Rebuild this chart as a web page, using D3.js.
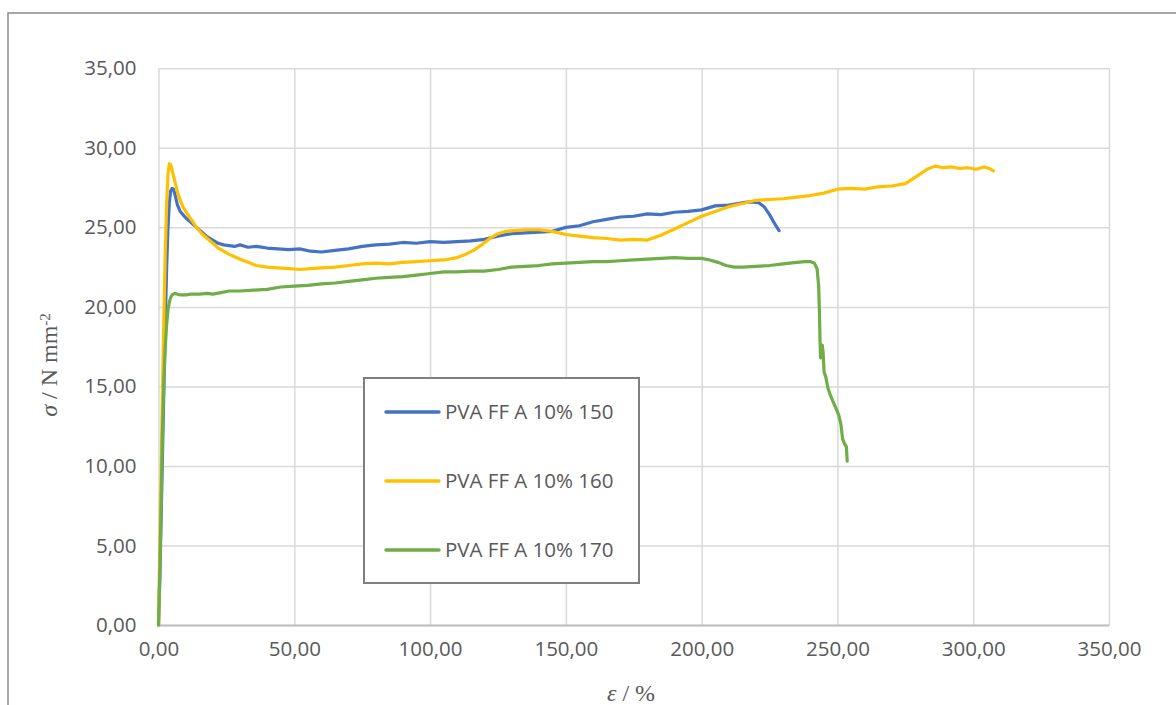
<!DOCTYPE html>
<html>
<head>
<meta charset="utf-8">
<script src="https://cdn.jsdelivr.net/npm/d3@7"></script>
<style>
    body { margin: 0; background: #ffffff; }
    svg { display: block; }
    .tick text { font-family: "Open Sans", sans-serif; font-size: 20.5px; fill: #595959; }
    .legendlabel { font-family: "Open Sans", sans-serif; font-size: 20.5px; fill: #595959; }
    .axistitle { font-family: "Liberation Serif", "Times New Roman", serif; font-size: 24px; fill: #595959; }
</style>
</head>
<body>
<div id="chart"></div>
<script>

// strain (%) and stress (N/mm2)
var strain150 = [0,0.5,1,1.5,2,2.5,3,3.5,4,4.5,5,5.5,6,7,8,9,10,12,14,16,18,20,22,24,26,28,30,33,36,40,44,48,52,56,60,65,70,75,80,85,90,95,100,105,110,115,120,125,130,135,140,145,150,155,160,165,170,175,180,185,190,195,200,205,210,215,218,221,223,225,227,228.5];
var stress150 = [0,3,7,11,15,19,22.5,25,26.6,27.3,27.45,27.4,27.1,26.4,26.0,25.8,25.6,25.3,25.0,24.7,24.4,24.2,24.0,23.9,23.85,23.8,23.9,23.75,23.8,23.7,23.65,23.6,23.65,23.5,23.45,23.55,23.65,23.8,23.9,23.95,24.05,24.0,24.1,24.05,24.1,24.15,24.25,24.45,24.6,24.65,24.7,24.75,25.0,25.1,25.35,25.5,25.65,25.7,25.85,25.8,25.95,26.0,26.1,26.35,26.4,26.55,26.6,26.55,26.3,25.8,25.2,24.8];

var strain160 = [0,0.5,1,1.5,2,2.5,3,3.5,4,4.5,5,6,7,8,9,10,12,14,16,18,20,22,24,26,28,30,33,36,40,44,48,52,56,60,65,70,75,80,85,90,95,100,105,110,113,116,119,122,125,128,131,135,140,145,150,155,160,165,170,175,180,185,190,195,200,205,210,215,220,225,230,235,240,245,250,255,260,265,270,275,280,283,286,289,292,295,298,301,304,306,307.5];
var stress160 = [0,5,10,15,19.5,23.5,26.5,28.4,29.0,28.95,28.6,27.9,27.2,26.7,26.3,26.0,25.5,25.0,24.6,24.3,24.0,23.7,23.5,23.3,23.15,23.0,22.8,22.6,22.5,22.45,22.4,22.35,22.4,22.45,22.5,22.6,22.7,22.75,22.7,22.8,22.85,22.9,22.95,23.1,23.3,23.55,23.9,24.3,24.6,24.75,24.8,24.85,24.85,24.75,24.55,24.45,24.35,24.3,24.2,24.25,24.2,24.5,24.9,25.3,25.7,26.0,26.3,26.5,26.7,26.75,26.8,26.9,27.0,27.15,27.4,27.45,27.4,27.55,27.6,27.75,28.3,28.65,28.85,28.75,28.8,28.7,28.75,28.65,28.8,28.7,28.55];

var strain170 = [0,0.5,1,1.5,2,2.5,3,3.5,4,4.5,5,6,7,8,10,12,15,18,20,23,26,30,35,40,45,50,55,60,65,70,75,80,85,90,95,100,105,110,115,120,125,130,135,140,145,150,155,160,165,170,175,180,185,190,195,200,203,206,209,212,215,220,225,230,235,238,240,241.5,242.5,243.1,243.4,243.6,243.8,244.1,244.4,244.7,245.1,245.7,246.5,247.5,248.5,249.5,250.5,251.3,251.9,252.6,253.3,253.6];
var stress170 = [0,3.5,8,12.5,15.5,17.5,18.9,19.8,20.3,20.6,20.75,20.85,20.8,20.75,20.75,20.8,20.8,20.85,20.8,20.9,21.0,21.0,21.05,21.1,21.25,21.3,21.35,21.45,21.5,21.6,21.7,21.8,21.85,21.9,22.0,22.1,22.2,22.2,22.25,22.25,22.35,22.5,22.55,22.6,22.7,22.75,22.8,22.85,22.85,22.9,22.95,23.0,23.05,23.1,23.05,23.05,22.95,22.8,22.6,22.5,22.5,22.55,22.6,22.7,22.8,22.85,22.85,22.75,22.4,21.3,19.5,17.8,16.8,16.9,17.6,17.2,15.9,15.6,14.9,14.4,14.0,13.6,13.2,12.6,11.7,11.4,11.2,10.3];

var seriesNames = ["PVA FF A 10% 150", "PVA FF A 10% 160", "PVA FF A 10% 170"];
var seriesColors = ["#4472c4", "#ffc000", "#70ad47"];
var xTicks = [0, 50, 100, 150, 200, 250, 300, 350];
var yTicks = [0, 5, 10, 15, 20, 25, 30, 35];

var W = 1176, H = 705;
var plot = {left: 158.5, right: 1109, top: 68.3, bottom: 625};

function zip(xs, ys) {
    return xs.map(function (d, i) { return [d, ys[i]]; });
}
var series = [zip(strain150, stress150), zip(strain160, stress160), zip(strain170, stress170)];

var svg = d3.select("#chart").append("svg")
    .attr("width", W)
    .attr("height", H);

// outer chart frame (runs off the bottom and right of the picture)
svg.append("rect")
    .attr("x", 8).attr("y", 13)
    .attr("width", W + 20).attr("height", H + 20)
    .attr("fill", "none")
    .attr("stroke", "#8c8c8c")
    .attr("stroke-width", 1.5);

var x = d3.scaleLinear().domain([0, 350]).range([plot.left, plot.right]);
var y = d3.scaleLinear().domain([0, 35]).range([plot.bottom, plot.top]);

var fmt = function (d) { return d3.format(".2f")(d).replace(".", ","); };

// gridlines
svg.append("g")
    .attr("class", "grid")
    .attr("transform", "translate(0," + plot.bottom + ")")
    .call(d3.axisBottom(x).tickValues(xTicks).tickSize(-(plot.bottom - plot.top)).tickFormat(""))
    .call(function (g) { g.select(".domain").remove(); });

svg.append("g")
    .attr("class", "grid")
    .attr("transform", "translate(" + plot.left + ",0)")
    .call(d3.axisLeft(y).tickValues(yTicks).tickSize(-(plot.right - plot.left)).tickFormat(""))
    .call(function (g) { g.select(".domain").remove(); });

svg.selectAll(".grid line")
    .attr("stroke", "#d9d9d9")
    .attr("stroke-width", 1.5);

// bottom axis line + labels
var xAxis = svg.append("g")
    .attr("transform", "translate(0," + plot.bottom + ")")
    .call(d3.axisBottom(x).tickValues(xTicks).tickSize(0).tickPadding(16).tickFormat(fmt));
xAxis.select(".domain").attr("stroke", "#bfbfbf").attr("stroke-width", 2);

var yAxis = svg.append("g")
    .attr("transform", "translate(" + plot.left + ",0)")
    .call(d3.axisLeft(y).tickValues(yTicks).tickSize(0).tickPadding(22).tickFormat(fmt));
yAxis.select(".domain").remove();

// curves
var line = d3.line()
    .x(function (d) { return x(d[0]); })
    .y(function (d) { return y(d[1]); });

svg.selectAll("path.curve")
    .data(series).enter().append("path")
    .attr("class", "curve")
    .attr("d", line)
    .attr("fill", "none")
    .attr("stroke", function (d, i) { return seriesColors[i]; })
    .attr("stroke-width", 3.2)
    .attr("stroke-linejoin", "round")
    .attr("stroke-linecap", "round");

// legend
var legend = svg.append("g").attr("transform", "translate(364,378)");
legend.append("rect")
    .attr("width", 275).attr("height", 205)
    .attr("fill", "#ffffff")
    .attr("stroke", "#7f7f7f")
    .attr("stroke-width", 2);

var items = legend.selectAll("g.item")
    .data(seriesNames).enter().append("g")
    .attr("class", "item")
    .attr("transform", function (d, i) { return "translate(0," + (34 + i * 69) + ")"; });

items.append("line")
    .attr("x1", 22).attr("x2", 75)
    .attr("stroke", function (d, i) { return seriesColors[i]; })
    .attr("stroke-width", 3.5)
    .attr("stroke-linecap", "round");

items.append("text")
    .attr("class", "legendlabel")
    .attr("x", 81)
    .attr("dy", "0.35em")
    .text(function (d) { return d; });

// axis titles
var yt = svg.append("text")
    .attr("class", "axistitle")
    .attr("transform", "translate(57,365) rotate(-90)")
    .attr("text-anchor", "middle");
yt.append("tspan").attr("font-style", "italic").text("σ");
yt.append("tspan").text(" / N mm");
yt.append("tspan").attr("dy", "-0.5em").attr("font-size", "15px").text("-2");

var xt = svg.append("text")
    .attr("class", "axistitle")
    .attr("x", 631).attr("y", 701)
    .attr("text-anchor", "middle");
xt.append("tspan").attr("font-style", "italic").text("ε");
xt.append("tspan").text(" / %");

</script>
</body>
</html>
